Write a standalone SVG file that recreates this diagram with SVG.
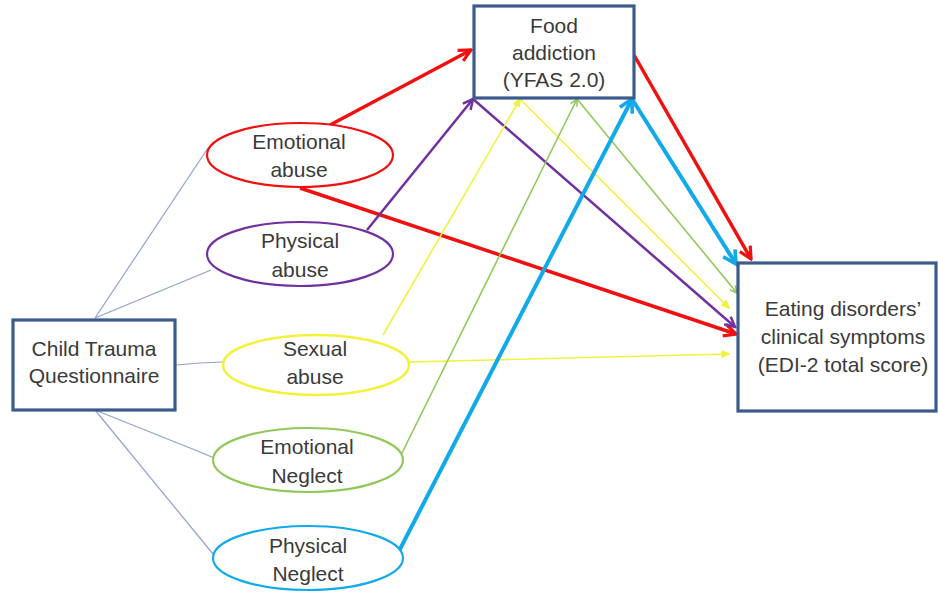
<svg xmlns="http://www.w3.org/2000/svg" width="938" height="595" viewBox="0 0 938 595">
<style>
.box{fill:#fff;stroke:#3b5b8c;stroke-width:3.2}
.t{font-family:"Liberation Sans","Open Sans",Arial,sans-serif;font-size:21px;fill:#3a3a3a;text-anchor:middle}
.thin{fill:none;stroke:#8fa2c9;stroke-width:1.2}
.red{stroke:#f01010;stroke-width:3.5;fill:none}
.pur{stroke:#7030a0;stroke-width:2.5;fill:none}
.yel{stroke:#f2f23c;stroke-width:1.6;fill:none}
.grn{stroke:#92c85a;stroke-width:1.6;fill:none}
.blu{stroke:#10aaea;stroke-width:4;fill:none}
</style>
<defs>
<marker id="mr" markerUnits="userSpaceOnUse" viewBox="0 0 16 16" markerWidth="16" markerHeight="16" refX="14" refY="8" orient="auto"><path d="M2,2 L14,8 L2,14" fill="none" stroke="#f01010" stroke-width="3.2"/></marker>
<marker id="mp" markerUnits="userSpaceOnUse" viewBox="0 0 14 14" markerWidth="14" markerHeight="14" refX="12" refY="7" orient="auto"><path d="M2,2 L12,7 L2,12" fill="none" stroke="#7030a0" stroke-width="2.5"/></marker>
<marker id="my" markerUnits="userSpaceOnUse" viewBox="0 0 10 10" markerWidth="10" markerHeight="10" refX="9" refY="5" orient="auto"><path d="M2,2 L9,5 L2,8 Z" fill="#f2f23c" stroke="#f2f23c" stroke-width="1.5"/></marker>
<marker id="mg" markerUnits="userSpaceOnUse" viewBox="0 0 10 10" markerWidth="10" markerHeight="10" refX="9" refY="5" orient="auto"><path d="M2,1.5 L9,5 L2,8.5" fill="none" stroke="#92c85a" stroke-width="1.6"/></marker>
<marker id="mb" markerUnits="userSpaceOnUse" viewBox="0 0 18 18" markerWidth="18" markerHeight="18" refX="15" refY="9" orient="auto"><path d="M2,2 L15,9 L2,16" fill="none" stroke="#10aaea" stroke-width="3.6"/></marker>
</defs>
<g id="connectors">
<path class="thin" d="M95,318 L208,148"/>
<path class="thin" d="M95,318 L211,270"/>
<path class="thin" d="M176,365 L200,363 L223,362"/>
<path class="thin" d="M95,410 L200,452 L214,458"/>
<path class="thin" d="M95,410 L213,554"/>
<path class="red" d="M330,125 L471,50" marker-end="url(#mr)"/>
<path class="red" d="M300,188 L736,334" marker-end="url(#mr)"/>
<path class="red" d="M634,55 L751,259" marker-end="url(#mr)"/>
<path class="pur" d="M367,230 L473,99" marker-end="url(#mp)"/>
<path class="pur" d="M473,99 L735,327" marker-end="url(#mp)"/>
<path class="yel" d="M383,335 L520,99" marker-end="url(#my)"/>
<path class="yel" d="M520,99 L729,308" marker-end="url(#my)"/>
<path class="yel" d="M410,362 L729,354" marker-end="url(#my)"/>
<path class="grn" d="M400,457 L577,99" marker-end="url(#mg)"/>
<path class="grn" d="M577,99 L737,293" marker-end="url(#mg)"/>
<path class="blu" d="M398,553 L632,99" marker-end="url(#mb)"/>
<path class="blu" d="M632,99 L736,264" marker-end="url(#mb)"/>
</g>
<g id="food-addiction">
<rect class="box" x="474" y="6" width="160" height="92"/>
<text class="t" x="554" y="33">Food</text>
<text class="t" x="554" y="60">addiction</text>
<text class="t" x="554" y="87">(YFAS 2.0)</text>
</g>
<g id="child-trauma">
<rect class="box" x="13" y="320" width="162" height="90"/>
<text class="t" x="94" y="356">Child Trauma</text>
<text class="t" x="94" y="383">Questionnaire</text>
</g>
<g id="edi">
<rect class="box" x="738" y="263" width="198" height="148"/>
<text class="t" x="843" y="316">Eating disorders’</text>
<text class="t" x="843" y="344">clinical symptoms</text>
<text class="t" x="843" y="372">(EDI-2 total score)</text>
</g>
<g id="emotional-abuse">
<ellipse cx="300" cy="155" rx="93" ry="32" fill="#fff" stroke="#f01010" stroke-width="2.2"/>
<text class="t" x="299" y="149">Emotional</text>
<text class="t" x="299" y="177">abuse</text>
</g>
<g id="physical-abuse">
<ellipse cx="300" cy="254" rx="93" ry="32" fill="#fff" stroke="#7030a0" stroke-width="2.2"/>
<text class="t" x="300" y="248">Physical</text>
<text class="t" x="300" y="277">abuse</text>
</g>
<g id="sexual-abuse">
<ellipse cx="316" cy="365" rx="93" ry="30" fill="#fff" stroke="#f2f23c" stroke-width="2.6"/>
<text class="t" x="315" y="356">Sexual</text>
<text class="t" x="315" y="384">abuse</text>
</g>
<g id="emotional-neglect">
<ellipse cx="308" cy="460" rx="95" ry="32" fill="#fff" stroke="#92c85a" stroke-width="2.2"/>
<text class="t" x="307" y="454">Emotional</text>
<text class="t" x="307" y="483">Neglect</text>
</g>
<g id="physical-neglect">
<ellipse cx="308" cy="558" rx="95" ry="32" fill="#fff" stroke="#10aaea" stroke-width="2.2"/>
<text class="t" x="308" y="553">Physical</text>
<text class="t" x="308" y="581">Neglect</text>
</g>
</svg>
